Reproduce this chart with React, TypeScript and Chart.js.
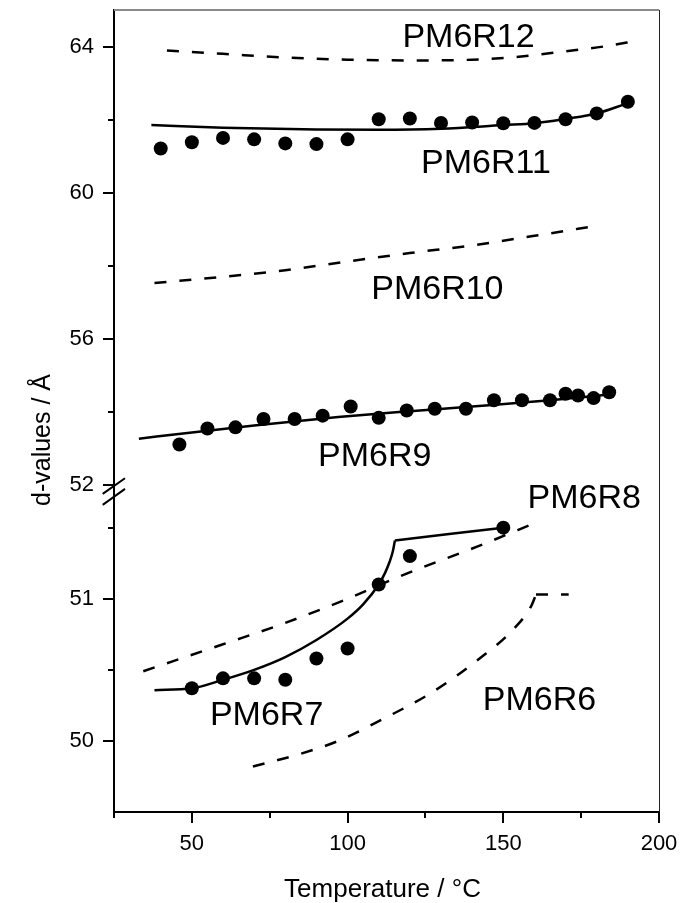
import React, { useEffect, useRef } from 'react';
import { Chart, registerables } from 'chart.js';

Chart.register(...registerables);

const FONT = '"Liberation Sans", Arial, Helvetica, sans-serif';

// ---- PM6R12 (model curve, upper range) ----
const r12Temp = [42, 60, 80, 100, 120, 140, 155, 170, 183, 193];
const r12D = [63.89, 63.8, 63.7, 63.64, 63.62, 63.64, 63.72, 63.87, 64.01, 64.16];

// ---- PM6R11 (measured + fit) ----
const r11Temp = [40, 50, 60, 70, 80, 90, 100, 110, 120, 130, 140, 150, 160, 170, 180, 190];
const r11D = [61.21, 61.38, 61.5, 61.46, 61.35, 61.33, 61.46, 62.01, 62.03, 61.91, 61.92, 61.9, 61.91, 62.01, 62.17, 62.49];
const r11FitTemp = [37, 60, 90, 110, 130, 150, 160, 170, 180, 190];
const r11FitD = [61.85, 61.78, 61.73, 61.72, 61.75, 61.85, 61.9, 62.02, 62.17, 62.45];

// ---- PM6R10 (model curve) ----
const r10Temp = [38, 60, 80, 100, 120, 140, 160, 181];
const r10D = [57.53, 57.7, 57.88, 58.12, 58.35, 58.56, 58.82, 59.11];

// ---- PM6R9 (measured + fit) ----
const r9Temp = [46, 55, 64, 73, 83, 92, 101, 110, 119, 128, 138, 147, 156, 165, 170, 174, 179, 184];
const r9D = [53.11, 53.55, 53.58, 53.81, 53.81, 53.9, 54.15, 53.84, 54.04, 54.09, 54.09, 54.32, 54.32, 54.32, 54.5, 54.45, 54.38, 54.54];
const r9FitTemp = [33, 50, 70, 97, 120, 140, 165, 184];
const r9FitD = [53.27, 53.44, 53.63, 53.86, 54.02, 54.15, 54.32, 54.48];

// ---- PM6R8 (model curve, lower range) ----
const r8Temp = [34.4, 60, 80, 100, 117, 142, 161];
const r8D = [50.49, 50.68, 50.83, 51.0, 51.16, 51.37, 51.54];

// ---- PM6R7 (measured + fit with a kink) ----
const r7Temp = [50, 60, 70, 80, 90, 100, 110, 120, 150];
const r7D = [50.37, 50.44, 50.44, 50.43, 50.58, 50.65, 51.1, 51.3, 51.5];
const r7FitTemp = [38, 50, 60, 70, 80, 90, 100, 105, 110, 112, 113.5, 114.5, 115.2];
const r7FitD = [50.357, 50.37, 50.43, 50.5, 50.59, 50.71, 50.86, 50.96, 51.1, 51.18, 51.26, 51.33, 51.41];
const r7TailTemp = [115.2, 150];
const r7TailD = [51.41, 51.5];

// ---- PM6R6 (model curve) ----
const r6Temp = [69.6, 85, 97, 111, 127, 143, 153, 159, 160.5];
const r6D = [49.82, 49.91, 50.0, 50.15, 50.34, 50.59, 50.78, 50.95, 51.03];
const r6TailTemp = [160.5, 171];
const r6TailD = [51.03, 51.03];

// Axis ranges (broken y axis: two stacked segments)
const xMin = 25;
const xMax = 200;
const yHighMin = 51.92;
const yHighMax = 65;
const yLowMin = 49.5;
const yLowMax = 51.779;

// Series labels: [text, temperature, d-value, axis]
const seriesLabels: [string, number, number, string][] = [
  ['PM6R12', 117.6, 63.98, 'yHigh'],
  ['PM6R11', 123.6, 60.53, 'yHigh'],
  ['PM6R10', 107.6, 57.08, 'yHigh'],
  ['PM6R9', 90.5, 52.53, 'yHigh'],
  ['PM6R8', 157.8, 51.639, 'yLow'],
  ['PM6R7', 55.8, 50.113, 'yLow'],
  ['PM6R6', 143.4, 50.216, 'yLow'],
];

const pts = (xs: number[], ys: number[]) => xs.map((x, i) => ({ x, y: ys[i] }));

const curve = (xs: number[], ys: number[], axis: string, dashed: boolean) => ({
  data: pts(xs, ys),
  yAxisID: axis,
  showLine: true,
  borderColor: '#000',
  borderWidth: 2.5,
  borderDash: dashed ? [12, 13] : [],
  pointRadius: 0,
  pointHoverRadius: 0,
  cubicInterpolationMode: 'monotone' as const,
  fill: false,
  order: 1,
});

const dots = (xs: number[], ys: number[], axis: string) => ({
  data: pts(xs, ys),
  yAxisID: axis,
  showLine: false,
  pointRadius: 7,
  pointHoverRadius: 7,
  pointBackgroundColor: '#000',
  pointBorderWidth: 0,
  order: 0,
});

const noPad = (s: any) => {
  s.paddingTop = 0;
  s.paddingBottom = 0;
  s.paddingLeft = 0;
  s.paddingRight = 0;
};

const decor = {
  id: 'decor',
  afterDraw(chart: any) {
    const { ctx, chartArea, scales } = chart;
    const { left, right, top, bottom } = chartArea;
    ctx.save();

    // frame on top and right
    ctx.strokeStyle = '#8a8a8a';
    ctx.lineWidth = 2;
    ctx.beginPath();
    ctx.moveTo(left, top);
    ctx.lineTo(right, top);
    ctx.stroke();
    ctx.strokeStyle = '#222';
    ctx.lineWidth = 1;
    ctx.beginPath();
    ctx.moveTo(right + 0.5, top);
    ctx.lineTo(right + 0.5, bottom);
    ctx.stroke();

    // tick marks
    ctx.strokeStyle = '#000';
    ctx.lineWidth = 2;
    const yh = scales.yHigh;
    for (const t of yh.ticks) {
      const v = t.value;
      if (v <= yh.min || v > yh.max || v % 2 !== 0) continue;
      const y = Math.round(yh.getPixelForValue(v));
      const len = v % 4 === 0 ? 11 : 6;
      ctx.beginPath();
      ctx.moveTo(left - len, y);
      ctx.lineTo(left, y);
      ctx.stroke();
    }
    const yl = scales.yLow;
    for (const t of yl.ticks) {
      const v = t.value;
      if (v <= yl.min || v > yl.max) continue;
      const y = Math.round(yl.getPixelForValue(v));
      const len = Number.isInteger(v) ? 11 : 6;
      ctx.beginPath();
      ctx.moveTo(left - len, y);
      ctx.lineTo(left, y);
      ctx.stroke();
    }
    const xs = scales.x;
    for (const t of xs.ticks) {
      const v = t.value;
      const x = Math.round(xs.getPixelForValue(v));
      const len = v % 50 === 0 ? 11 : 6;
      ctx.beginPath();
      ctx.moveTo(x, bottom);
      ctx.lineTo(x, bottom + len);
      ctx.stroke();
    }

    // axis break marks at the junction of the two y segments
    const yb = yh.bottom;
    ctx.lineWidth = 2;
    ctx.beginPath();
    ctx.moveTo(left - 11.3, yb + 5.9);
    ctx.lineTo(left + 11, yb - 9.7);
    ctx.moveTo(left - 11.3, yb + 16.9);
    ctx.lineTo(left + 11, yb + 0.9);
    ctx.stroke();

    // series labels
    ctx.fillStyle = '#000';
    ctx.font = `34px ${FONT}`;
    ctx.textAlign = 'left';
    ctx.textBaseline = 'alphabetic';
    for (const [text, tx, dv, axis] of seriesLabels) {
      ctx.fillText(text, xs.getPixelForValue(tx), scales[axis].getPixelForValue(dv));
    }

    // axis titles
    ctx.font = `26px ${FONT}`;
    ctx.textAlign = 'center';
    ctx.fillText('Temperature / °C', (left + right) / 2 - 4, 897);
    ctx.save();
    ctx.translate(50, 440);
    ctx.rotate(-Math.PI / 2);
    ctx.font = `25px ${FONT}`;
    ctx.fillText('d-values / Å', 0, 0);
    ctx.restore();

    ctx.restore();
  },
};

export default function App() {
  const ref = useRef<HTMLCanvasElement>(null);

  useEffect(() => {
    const tickFont = { family: FONT, size: 22 };
    const hiddenTickGrid = {
      display: true,
      drawOnChartArea: false,
      drawTicks: true,
      tickLength: 10,
      tickColor: 'rgba(0,0,0,0)',
    };
    const chart = new Chart(ref.current as HTMLCanvasElement, {
      type: 'scatter',
      data: {
        datasets: [
          curve(r12Temp, r12D, 'yHigh', true),
          curve(r11FitTemp, r11FitD, 'yHigh', false),
          dots(r11Temp, r11D, 'yHigh'),
          curve(r10Temp, r10D, 'yHigh', true),
          curve(r9FitTemp, r9FitD, 'yHigh', false),
          dots(r9Temp, r9D, 'yHigh'),
          curve(r8Temp, r8D, 'yLow', true),
          curve(r7FitTemp, r7FitD, 'yLow', false),
          curve(r7TailTemp, r7TailD, 'yLow', false),
          dots(r7Temp, r7D, 'yLow'),
          curve(r6Temp, r6D, 'yLow', true),
          curve(r6TailTemp, r6TailD, 'yLow', true),
        ] as any,
      },
      options: {
        responsive: false,
        animation: false,
        layout: { padding: { left: 0, right: 22, top: 10, bottom: 0 } },
        plugins: { legend: { display: false }, tooltip: { enabled: false } },
        scales: {
          x: {
            type: 'linear',
            position: 'bottom',
            min: xMin,
            max: xMax,
            grid: hiddenTickGrid,
            border: { display: true, color: '#000', width: 2 },
            ticks: {
              stepSize: 25,
              color: '#000',
              font: tickFont,
              padding: 9,
              maxRotation: 0,
              autoSkip: false,
              callback: (v: any) => (Number(v) % 50 === 0 ? String(v) : ''),
            },
            afterFit: (s: any) => {
              s.height = 91;
              noPad(s);
            },
          },
          yLow: {
            type: 'linear',
            position: 'left',
            stack: 'd',
            stackWeight: (yLowMax - yLowMin) * 142,
            min: yLowMin,
            max: yLowMax,
            grid: hiddenTickGrid,
            border: { display: true, color: '#000', width: 2 },
            ticks: {
              stepSize: 0.5,
              includeBounds: false,
              color: '#000',
              font: tickFont,
              padding: 10,
              autoSkip: false,
              callback: (v: any) => (Number.isInteger(Number(v)) && Number(v) > yLowMin ? String(v) : ''),
            },
            afterFit: (s: any) => {
              s.width = 114;
              noPad(s);
            },
          },
          yHigh: {
            type: 'linear',
            position: 'left',
            stack: 'd',
            stackWeight: (yHighMax - yHighMin) * 36.5,
            min: yHighMin,
            max: yHighMax,
            grid: hiddenTickGrid,
            border: { display: true, color: '#000', width: 2 },
            ticks: {
              stepSize: 2,
              includeBounds: false,
              color: '#000',
              font: tickFont,
              padding: 10,
              autoSkip: false,
              callback: (v: any) => (Number(v) % 4 === 0 ? String(v) : ''),
            },
            afterFit: (s: any) => {
              s.width = 114;
              noPad(s);
            },
          },
        } as any,
      },
      plugins: [decor],
    });
    return () => chart.destroy();
  }, []);

  return (
    <div style={{ position: 'absolute', left: 0, top: 0, width: 681, height: 903, background: '#fff' }}>
      <canvas ref={ref} width={681} height={903} style={{ display: 'block' }} />
    </div>
  );
}
